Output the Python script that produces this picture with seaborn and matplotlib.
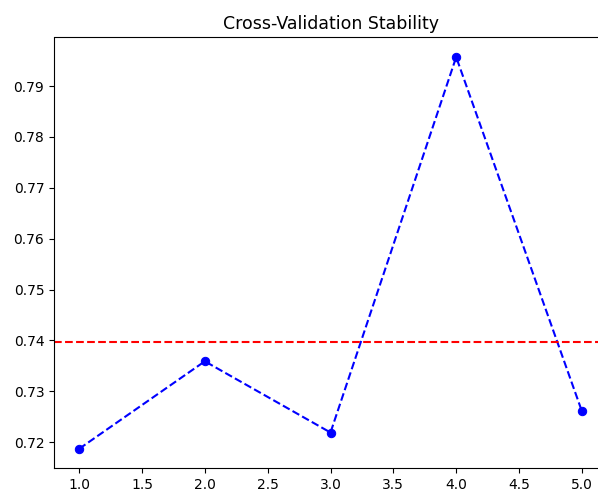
import matplotlib
matplotlib.use("Agg")
import matplotlib.pyplot as plt
import seaborn as sns
import numpy as np
import pandas as pd

folds = [1, 2, 3, 4, 5]
scores = [0.7187, 0.7359, 0.7219, 0.7957, 0.7261]
title = "Cross-Validation Stability"

df = pd.DataFrame({"fold": folds, "score": scores})

fig = plt.figure(figsize=(5.98, 4.91), dpi=100)
ax = fig.add_axes([54 / 598, (491 - 468.4) / 491, (607 - 54) / 598, (468.4 - 37.5) / 491])

sns.lineplot(data=df, x="fold", y="score", ax=ax, color="blue", marker="o",
             linestyle="--", markeredgecolor="blue", markersize=6, alpha=1)
for l in ax.lines:
    l.set_dashes((3.7, 1.6))
ax.axhline(np.mean(scores), color="red", linestyle="--")
ax.set_title(title, fontsize=12.5)
ax.set_xlabel("")
ax.set_ylabel("")
ax.set_xticks([1.0, 1.5, 2.0, 2.5, 3.0, 3.5, 4.0, 4.5, 5.0])
ax.set_xticklabels(["1.0", "1.5", "2.0", "2.5", "3.0", "3.5", "4.0", "4.5", "5.0"])
ax.set_yticks([0.72, 0.73, 0.74, 0.75, 0.76, 0.77, 0.78, 0.79])
ax.set_yticklabels(["0.72", "0.73", "0.74", "0.75", "0.76", "0.77", "0.78", "0.79"])

fig.savefig("out.png", dpi=100)
